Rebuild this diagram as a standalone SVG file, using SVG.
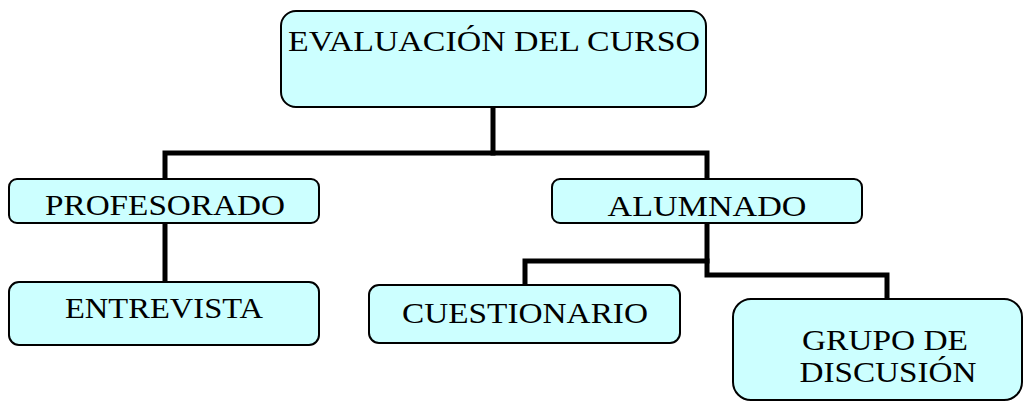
<svg xmlns="http://www.w3.org/2000/svg" width="1030" height="403" viewBox="0 0 1030 403">
<style>
.box{fill:#CCFFFF;stroke:#000;stroke-width:2}
.t{font-family:"Liberation Serif","Times New Roman",serif;font-size:30px;fill:#000;text-anchor:middle}
.c{fill:none;stroke:#000;stroke-width:5;stroke-linejoin:miter;stroke-linecap:square}
</style>
<rect width="1030" height="403" fill="#fff"/>
<g id="connectors">
<polyline class="c" points="493,108 493,153"/>
<polyline class="c" points="165,178 165,153 707,153 707,178"/>
<polyline class="c" points="165,224 165,281"/>
<polyline class="c" points="707,224 707,275 887,275 887,298"/>
<polyline class="c" points="707,261 525,261 525,284"/>
</g>
<g id="evaluacion">
<rect class="box" x="281" y="11" width="425" height="96" rx="15"/>
<text class="t" x="494" y="51" font-size="32" textLength="412" lengthAdjust="spacingAndGlyphs">EVALUACIÓN DEL CURSO</text>
</g>
<g id="profesorado">
<rect class="box" x="9" y="179" width="310" height="44" rx="8"/>
<text class="t" x="165" y="215" textLength="240" lengthAdjust="spacingAndGlyphs">PROFESORADO</text>
</g>
<g id="alumnado">
<rect class="box" x="552" y="179" width="310" height="44" rx="8"/>
<text class="t" x="707" y="216" textLength="199" lengthAdjust="spacingAndGlyphs">ALUMNADO</text>
</g>
<g id="entrevista">
<rect class="box" x="9" y="282" width="310" height="63" rx="10"/>
<text class="t" x="164" y="318" textLength="198" lengthAdjust="spacingAndGlyphs">ENTREVISTA</text>
</g>
<g id="cuestionario">
<rect class="box" x="369" y="285" width="311" height="58" rx="10"/>
<text class="t" x="525" y="323" textLength="246" lengthAdjust="spacingAndGlyphs">CUESTIONARIO</text>
</g>
<g id="grupo">
<rect class="box" x="733" y="299" width="289" height="101" rx="18"/>
<text class="t" x="885" y="350" textLength="166" lengthAdjust="spacingAndGlyphs">GRUPO DE</text>
<text class="t" x="888" y="382" textLength="177" lengthAdjust="spacingAndGlyphs">DISCUSIÓN</text>
</g>
</svg>
